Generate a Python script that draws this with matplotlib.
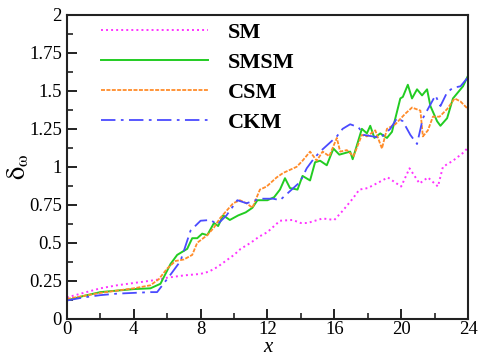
import numpy as np
import matplotlib
matplotlib.use("Agg")
import matplotlib.pyplot as plt
from matplotlib.ticker import MultipleLocator

# ── data ──
sm_x = [0, 1, 2, 3, 4, 5, 5.6, 6, 7, 8, 8.5, 9, 9.5, 10, 10.4, 11, 11.5, 12, 12.75,
        13.5, 14, 14.4, 15.3, 16, 16.5, 17.1, 17.5, 18, 18.7, 19.2, 20, 20.5, 21.1,
        21.6, 22.2, 22.5, 23.1, 23.8, 24]
sm_y = [0.14, 0.17, 0.2, 0.22, 0.235, 0.25, 0.26, 0.27, 0.285, 0.295, 0.31, 0.34,
        0.38, 0.42, 0.46, 0.5, 0.54, 0.57, 0.645, 0.65, 0.63, 0.63, 0.66, 0.65, 0.71,
        0.79, 0.85, 0.86, 0.9, 0.93, 0.87, 0.99, 0.89, 0.93, 0.87, 1.0, 1.04, 1.1, 1.13]

smsm_x = [0, 1, 2, 3, 4, 5, 5.6, 6.2, 6.6, 7.2, 7.5, 7.8, 8.1, 8.4, 8.8, 9.05, 9.35,
          9.75, 10.25, 10.7, 11.1, 11.4, 12, 12.4, 12.75, 13.05, 13.35, 13.8, 14.1,
          14.55, 14.85, 15.15, 15.55, 15.95, 16.3, 16.95, 17.1, 17.65, 17.95, 18.15,
          18.4, 18.75, 19.15, 19.45, 19.95, 20.1, 20.4, 20.65, 20.95, 21.25, 21.55,
          21.75, 22.15, 22.35, 22.75, 23.1, 23.7, 24]
smsm_y = [0.12, 0.15, 0.175, 0.185, 0.195, 0.2, 0.23, 0.36, 0.42, 0.46, 0.53, 0.53,
          0.56, 0.55, 0.63, 0.61, 0.68, 0.65, 0.68, 0.70, 0.73, 0.78, 0.78, 0.80, 0.85,
          0.925, 0.86, 0.85, 0.94, 0.91, 1.03, 1.04, 1.01, 1.12, 1.08, 1.10, 1.05, 1.25,
          1.22, 1.27, 1.19, 1.22, 1.19, 1.23, 1.45, 1.46, 1.54, 1.45, 1.51, 1.47, 1.51,
          1.40, 1.30, 1.27, 1.32, 1.45, 1.53, 1.6]

csm_x = [0, 1, 2, 3, 4, 5, 5.5, 6, 6.5, 7, 7.5, 7.8, 8.4, 8.8, 9.15, 9.55, 9.95, 10.35,
         10.75, 11.1, 11.55, 11.95, 12.55, 12.95, 13.35, 13.75, 14.1, 14.55, 14.95,
         15.3, 15.7, 16.15, 16.35, 16.75, 17.15, 17.65, 17.95, 18.45, 18.85, 19.15,
         19.65, 20.25, 20.65, 21.15, 21.3, 21.6, 21.9, 22.3, 22.75, 23.2, 23.55, 24]
csm_y = [0.13, 0.15, 0.17, 0.185, 0.2, 0.22, 0.26, 0.33, 0.38, 0.39, 0.42, 0.50, 0.55,
         0.60, 0.66, 0.71, 0.76, 0.78, 0.76, 0.73, 0.85, 0.87, 0.93, 0.96, 0.98, 1.0,
         1.04, 1.1, 1.04, 1.1, 1.07, 1.19, 1.10, 1.11, 1.07, 1.21, 1.20, 1.24, 1.12,
         1.25, 1.28, 1.35, 1.39, 1.37, 1.2, 1.24, 1.33, 1.33, 1.38, 1.45, 1.43, 1.38]

ckm_x = [0, 1, 2, 3, 4, 5, 5.4, 6.2, 6.8, 7.4, 8, 8.6, 9, 9.55, 10.2, 10.75, 11.55,
         12.35, 12.75, 13.35, 13.95, 14.35, 14.75, 15.15, 15.65, 16.15, 16.5, 16.95,
         17.45, 17.75, 18.3, 18.75, 19.35, 19.75, 20.1, 20.55, 20.95, 21.3, 21.75,
         22.05, 22.35, 22.75, 23.1, 23.55, 24]
ckm_y = [0.12, 0.14, 0.155, 0.165, 0.17, 0.175, 0.175, 0.29, 0.38, 0.58, 0.645, 0.65,
         0.62, 0.68, 0.78, 0.76, 0.79, 0.79, 0.78, 0.84, 0.90, 0.99, 1.05, 1.10, 1.15,
         1.20, 1.25, 1.28, 1.26, 1.21, 1.20, 1.19, 1.25, 1.32, 1.30, 1.21, 1.15, 1.32,
         1.41, 1.47, 1.40, 1.49, 1.52, 1.53, 1.59]

labels = ["SM", "SMSM", "CSM", "CKM"]

plt.rcParams.update({
    "font.family": ["Liberation Serif", "DejaVu Serif"],
    "mathtext.fontset": "stix",
    "xtick.direction": "in",
    "ytick.direction": "in",
})

fig = plt.figure(figsize=(4.81, 3.63), dpi=100)
ax = fig.add_axes([0.139, 0.122, 0.834, 0.837])

ax.plot(sm_x, sm_y, color="#ff33ff", lw=1.4, dashes=(1, 1.6), label=labels[0])
ax.plot(smsm_x, smsm_y, color="#22cc22", lw=1.4, label=labels[1])
ax.plot(csm_x, csm_y, color="#ff8c2a", lw=1.3, dashes=(2.2, 0.8), label=labels[2])
ax.plot(ckm_x, ckm_y, color="#4a4aff", lw=1.3, dashes=(8, 3, 1.5, 3), label=labels[3])

ax.set_xlim(0, 24)
ax.set_ylim(0, 2)
ax.xaxis.set_major_locator(MultipleLocator(4))
ax.xaxis.set_minor_locator(MultipleLocator(2))
ax.yaxis.set_major_locator(MultipleLocator(0.25))
ax.yaxis.set_minor_locator(MultipleLocator(0.125))
ax.set_yticks([0, 0.25, 0.5, 0.75, 1, 1.25, 1.5, 1.75, 2])
ax.set_yticklabels(["0", "0.25", "0.5", "0.75", "1", "1.25", "1.5", "1.75", "2"])
ax.tick_params(which="major", length=7, width=1.4, labelsize=13.5, color="#222222")
ax.tick_params(which="minor", length=4, width=1.2, color="#222222")
ax.tick_params(axis="x", pad=2)
for sp in ax.spines.values():
    sp.set_linewidth(1.5)
    sp.set_color("#222222")

ax.set_xlabel("x", fontsize=15, style="italic", labelpad=0)
ax.set_ylabel(r"$\mathrm{\delta_\omega}$", fontsize=19, labelpad=-1)

ax.legend(loc="upper left", bbox_to_anchor=(0.085, 0.975), frameon=False,
          prop={"weight": "bold", "size": 16}, handlelength=4.8,
          handletextpad=0.9, labelspacing=0.42, borderpad=0, borderaxespad=0)

fig.savefig("out.png", dpi=100)
